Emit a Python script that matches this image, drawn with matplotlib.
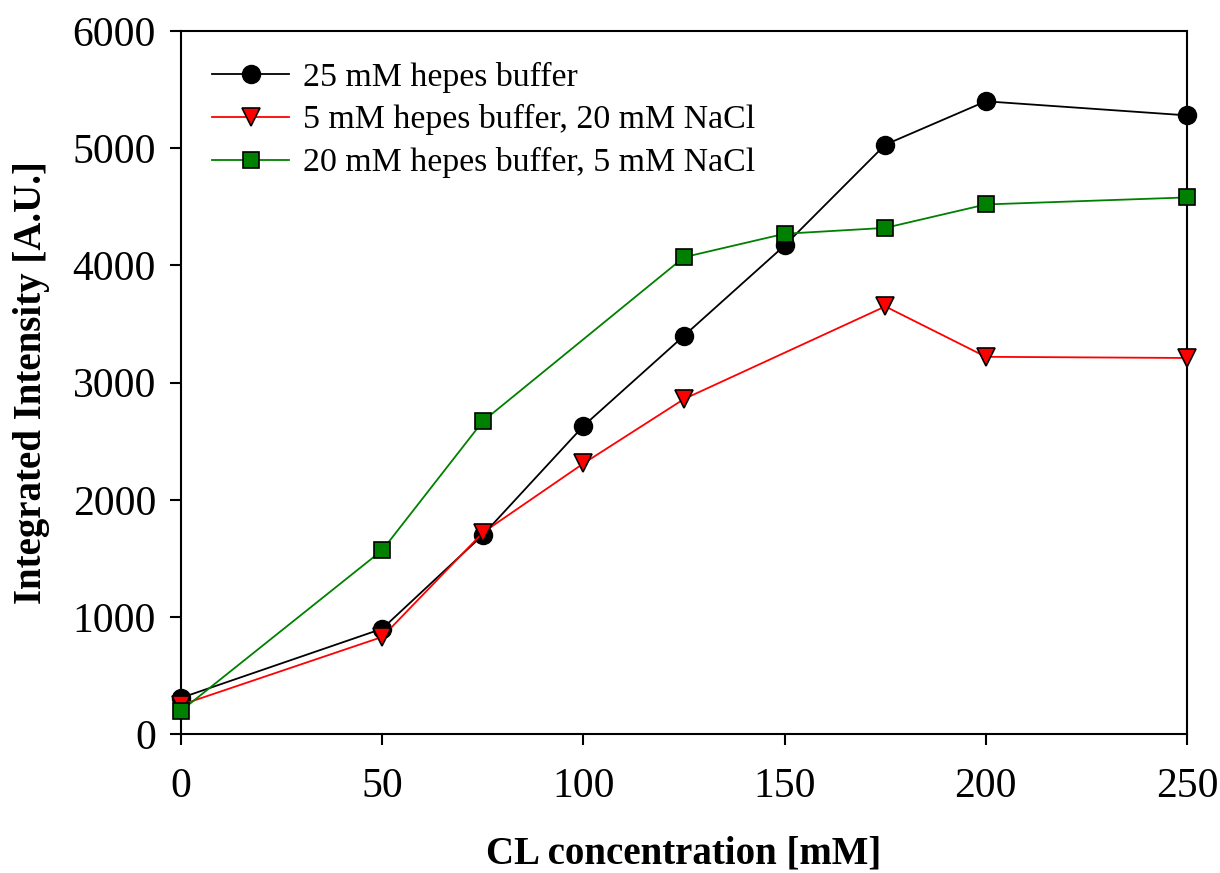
import numpy as np
import matplotlib.pyplot as plt

plt.rcParams['font.family'] = ['Liberation Serif', 'DejaVu Serif']

# CL concentration [mM]
conc_black = [0, 50, 75, 100, 125, 150, 175, 200, 250]
hepes25 = [310, 900, 1700, 2630, 3400, 4170, 5030, 5400, 5280]

conc_red = [0, 50, 75, 100, 125, 175, 200, 250]
hepes5_nacl20 = [250, 830, 1720, 2310, 2860, 3650, 3220, 3210]

conc_green = [0, 50, 75, 125, 150, 175, 200, 250]
hepes20_nacl5 = [200, 1570, 2670, 4070, 4270, 4320, 4520, 4580]

labels = ['25 mM hepes buffer', '5 mM hepes buffer, 20 mM NaCl', '20 mM hepes buffer, 5 mM NaCl']
xticks = [0, 50, 100, 150, 200, 250]
yticks = [0, 1000, 2000, 3000, 4000, 5000, 6000]

fig = plt.figure(figsize=(12.2, 8.73), dpi=100)
ax = fig.add_axes([0.1484, 0.159, 0.8246, 0.8055])

ax.plot(conc_black, hepes25, color='black', lw=1.3, marker='o', ms=13,
        mfc='black', mec='black', label=labels[0], clip_on=False, zorder=3)
ax.plot(conc_red, hepes5_nacl20, color='red', lw=1.3, marker='v', ms=12.5,
        mfc='red', mec='black', mew=1.2, label=labels[1], clip_on=False, zorder=3)
ax.plot(conc_green, hepes20_nacl5, color='green', lw=1.3, marker='s', ms=11.5,
        mfc='green', mec='black', mew=1.2, label=labels[2], clip_on=False, zorder=3)

ax.set_xlim(0, 250)
ax.set_ylim(0, 6000)
ax.set_xticks(xticks)
ax.set_yticks(yticks)
ax.tick_params(direction='out', length=8, width=1.5, labelsize=30)
ax.tick_params(axis='x', pad=16)
ax.tick_params(axis='y', pad=10)
for s in ax.spines.values():
    s.set_linewidth(1.5)

ax.set_xlabel('CL concentration [mM]', fontsize=28, fontweight='bold', labelpad=21)
ax.set_ylabel('Integrated Intensity [A.U.]', fontsize=28, fontweight='bold', labelpad=16)

ax.legend(loc='upper left', frameon=False, fontsize=24.4, handlelength=2.3,
          handletextpad=0.4, labelspacing=0.35, bbox_to_anchor=(0.0, 1.0),
          borderaxespad=0.5)

fig.savefig('out.png', dpi=100)
